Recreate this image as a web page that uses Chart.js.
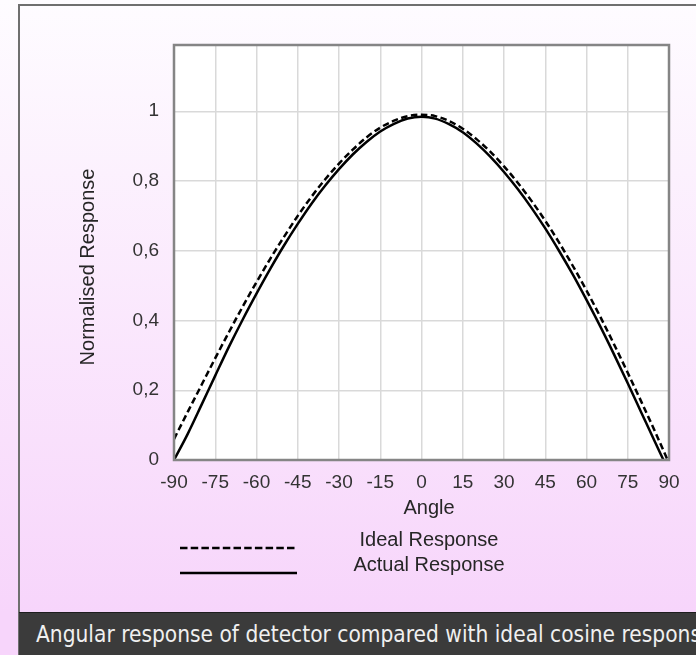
<!DOCTYPE html>
<html>
<head>
<meta charset="utf-8">
<script src="https://cdn.jsdelivr.net/npm/chart.js@4.4.1/dist/chart.umd.min.js"></script>
<style>
  html, body { margin: 0; padding: 0; width: 696px; height: 655px; overflow: hidden; }
  body {
    position: relative;
    background: linear-gradient(to bottom, #fefcff 0px, #f7d5fb 613px);
    font-family: 'Liberation Sans', Arial, sans-serif;
  }
  #frame {
    position: absolute; left: 18px; top: 4px; width: 720px; height: 660px;
    border-left: 2px solid #6f6f6f; border-top: 2px solid #6f6f6f;
  }
  #wrap { position: absolute; left: 0; top: 0; width: 696px; height: 613px; }
  #caption {
    position: absolute; left: 19px; top: 612px; width: 677px; height: 43px;
    background: #3b3b3b; border-top: 1px solid #1e1e1e;
    color: #f0f0f0; white-space: nowrap; overflow: hidden;
    font-family: 'Liberation Sans Narrow', 'DejaVu Sans Condensed', 'Arial Narrow', sans-serif;
    font-stretch: condensed; font-size: 22.5px; line-height: 42px; padding-left: 17px; box-sizing: border-box;
  }
</style>
</head>
<body>
<div id="frame"></div>
<div id="wrap"><canvas id="angularChart" width="696" height="613"></canvas></div>
<div id="caption">Angular response of detector compared with ideal cosine response</div>
<script>
// angles in degrees
const idealAngles = [-90, -85, -80, -75, -70, -65, -60, -55, -50, -45, -40, -35, -30, -25, -20, -15, -10, -5,
    0, 5, 10, 15, 20, 25, 30, 35, 40, 45, 50, 55, 60, 65, 70, 75, 80, 85, 89.5];
const idealValues = [0.06, 0.138, 0.215, 0.292, 0.367, 0.44, 0.51, 0.577, 0.64, 0.70, 0.755, 0.805, 0.85, 0.89, 0.925, 0.953, 0.973, 0.986,
    0.99, 0.986, 0.972, 0.95, 0.92, 0.884, 0.842, 0.795, 0.743, 0.686, 0.624, 0.557, 0.486, 0.411, 0.332, 0.25, 0.166, 0.08, 0.0];

const actualAngles = [-90, -85, -80, -75, -70, -65, -60, -55, -50, -45, -40, -35, -30, -25, -20, -15, -10, -5,
    0, 5, 10, 15, 20, 25, 30, 35, 40, 45, 50, 55, 60, 65, 70, 75, 80, 85, 88];
const actualValues = [0.0, 0.075, 0.158, 0.242, 0.325, 0.403, 0.477, 0.548, 0.615, 0.677, 0.735, 0.787, 0.834, 0.876, 0.912, 0.942, 0.964, 0.979,
    0.984, 0.979, 0.963, 0.94, 0.908, 0.87, 0.826, 0.777, 0.723, 0.664, 0.60, 0.532, 0.459, 0.383, 0.303, 0.22, 0.135, 0.05, 0.0];

const xTickStep = 15;
const yTickLabels = ['0', '0,2', '0,4', '0,6', '0,8', '1'];
const seriesLabels = ['Ideal Response', 'Actual Response'];
const xTitle = 'Angle';
const yTitle = 'Normalised Response';

const toPoints = (xs, ys) => xs.map((x, i) => ({ x: x, y: ys[i] }));

// white plot background + grey frame round the plot area
const plotFrame = {
    id: 'plotFrame',
    beforeDraw(chart) {
        const { ctx, chartArea: a } = chart;
        ctx.save();
        ctx.fillStyle = '#ffffff';
        ctx.fillRect(a.left, a.top, a.right - a.left, a.bottom - a.top);
        ctx.restore();
    },
    afterDraw(chart) {
        const { ctx, chartArea: a } = chart;
        ctx.save();
        ctx.strokeStyle = '#858585';
        ctx.lineWidth = 2.5;
        ctx.strokeRect(a.left, a.top, a.right - a.left, a.bottom - a.top);
        ctx.restore();
    }
};

// axis titles and the legend below the chart
const labelsBelow = {
    id: 'labelsBelow',
    afterDraw(chart) {
        const ctx = chart.ctx;
        ctx.save();
        ctx.fillStyle = '#262626';
        ctx.font = '20px "Liberation Sans", Arial, sans-serif';
        ctx.textAlign = 'center';
        ctx.textBaseline = 'middle';
        ctx.fillText(xTitle, 429, 508);

        ctx.save();
        ctx.translate(88, 267);
        ctx.rotate(-Math.PI / 2);
        ctx.fillText(yTitle, 0, 0);
        ctx.restore();

        const rows = [540, 565];
        chart.data.datasets.forEach((ds, i) => {
            ctx.fillText(ds.label, 429, rows[i]);
            ctx.beginPath();
            ctx.setLineDash(ds.borderDash ? [7.5, 3.2] : []);
            ctx.strokeStyle = ds.borderColor;
            ctx.lineWidth = 2.5;
            ctx.moveTo(180, rows[i] + 8);
            ctx.lineTo(297, rows[i] + 8);
            ctx.stroke();
        });
        ctx.restore();
    }
};

new Chart(document.getElementById('angularChart').getContext('2d'), {
    type: 'line',
    data: {
        datasets: [
            {
                label: seriesLabels[0],
                data: toPoints(idealAngles, idealValues),
                borderColor: '#000000',
                borderWidth: 2.5,
                borderDash: [6.5, 3.5],
                pointRadius: 0,
                fill: false,
                cubicInterpolationMode: 'monotone'
            },
            {
                label: seriesLabels[1],
                data: toPoints(actualAngles, actualValues),
                borderColor: '#000000',
                borderWidth: 2.5,
                pointRadius: 0,
                fill: false,
                cubicInterpolationMode: 'monotone'
            }
        ]
    },
    options: {
        responsive: false,
        animation: false,
        layout: { padding: { top: 45, right: 27, left: 0, bottom: 0 } },
        plugins: {
            legend: { display: false },
            tooltip: { enabled: false }
        },
        scales: {
            x: {
                type: 'linear',
                min: -90,
                max: 90,
                afterFit: scale => { scale.height = 153; },
                border: { display: false },
                grid: { color: '#d9d9d9', lineWidth: 1.5, drawTicks: false },
                ticks: {
                    stepSize: xTickStep,
                    padding: 11,
                    color: '#333333',
                    font: { family: '"Liberation Sans", Arial, sans-serif', size: 19 }
                }
            },
            y: {
                min: 0,
                max: 1.19,
                afterFit: scale => { scale.width = 174; },
                border: { display: false },
                grid: { color: '#d9d9d9', lineWidth: 1.5, drawTicks: false },
                ticks: {
                    stepSize: 0.2,
                    padding: 15,
                    color: '#333333',
                    font: { family: '"Liberation Sans", Arial, sans-serif', size: 19 },
                    callback: (value, index) => yTickLabels[index] || ''
                }
            }
        }
    },
    plugins: [plotFrame, labelsBelow]
});
</script>
</body>
</html>
